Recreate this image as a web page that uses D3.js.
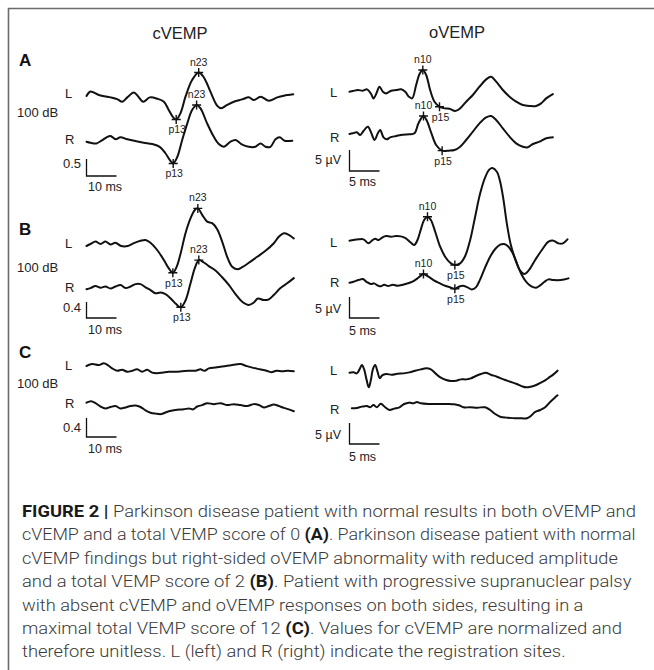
<!DOCTYPE html>
<html>
<head>
<meta charset="utf-8">
<script src="https://cdn.jsdelivr.net/npm/d3@7/dist/d3.min.js"></script>
<style>
  html, body { margin: 0; padding: 0; background: #fff; }
  svg { display: block; font-family: "Liberation Sans", Arial, sans-serif; }
</style>
</head>
<body>
<div id="chart"></div>
<script>
// traces: [time in ms from trace start, amplitude]
// cVEMP amplitudes are normalized (unitless), oVEMP amplitudes in µV
const cvempA_L = [[0,0],[1.33,0.13],[4.1,0.03],[8,-0.04],[10.4,-0.1],[11.9,-0.17],[13.6,-0.04],[15.8,0.1],[17.1,0],[18.9,-0.17],[21.1,-0.04],[23.6,-0.08],[25.8,-0.17],[27.4,-0.41],[28.9,-0.63],[29.9,-0.69],[31.3,-0.51],[33,-0.02],[35.2,0.47],[37.4,0.69],[39.1,0.55],[41.3,0.13],[43.6,-0.29],[44.9,-0.36],[46.9,-0.26],[49.1,-0.17],[51.9,-0.1],[54.1,-0.04],[55.8,-0.12],[58,-0.02],[60.8,-0.14],[63.6,-0.04],[65.8,0.01],[68.9,0.05]]
const cvempA_R = [[0,0],[1.3,-0.03],[3.3,-0.05],[5,0.03],[6.7,0.13],[8,0.17],[9.7,0.07],[11.3,0.13],[13.6,0.07],[16.3,0.02],[19.1,-0.03],[21.9,-0.07],[24.4,-0.15],[26.3,-0.34],[27.8,-0.54],[28.9,-0.64],[30.2,-0.46],[31.9,0.05],[33.6,0.54],[35.2,0.93],[36.7,1.08],[38,0.98],[40.2,0.54],[42.4,0.15],[44.1,-0.07],[45.8,-0.15],[48,0],[49.7,0.05],[51.6,-0.07],[54.1,-0.15],[56.3,-0.15],[58,-0.05],[59.7,-0.15],[61.3,-0.15],[63,0.07],[64.4,0.13],[66,0.03],[68.6,0.03]]
const ovempA_L = [[0,0],[0.56,0.16],[1.39,0.4],[2.22,0.24],[2.94,0.56],[3.61,-0.56],[4,-1.59],[4.44,-0.56],[5,1.19],[5.56,0],[6.11,-0.4],[6.94,0.24],[7.78,0.4],[8.61,0.56],[9.33,-0.08],[9.89,-1.19],[10.44,-1.59],[11.11,1.59],[11.67,4.21],[12.22,5.16],[12.78,3.97],[13.44,0.4],[14.17,-2.38],[15,-3.57],[15.83,-3.97],[16.67,-4.05],[17.61,-4.6],[18.44,-3.97],[19.44,-2.38],[20.56,-0.79],[21.67,1.19],[22.78,2.94],[23.61,3.57],[24.44,2.38],[25.56,0.4],[26.67,-1.19],[27.78,-2.38],[28.89,-3.17],[30,-3.41],[31.11,-3.41],[31.94,-2.78],[32.78,-1.59],[33.89,-0.56]]
const ovempA_R = [[0,0],[0.56,0.16],[1.22,0.4],[1.78,-0.24],[2.33,0.71],[3.06,1.75],[3.61,0.32],[4.17,-1.43],[4.72,0.16],[5.11,0.95],[5.67,-0.79],[6.22,-1.27],[6.78,-0.79],[7.78,-0.48],[8.89,-0.16],[10,-0.08],[10.83,0.16],[11.44,2.38],[11.94,3.73],[12.33,4.29],[12.89,3.17],[13.61,0.32],[14.44,-2.62],[15.44,-3.97],[16.56,-3.97],[17.5,-3.81],[18.44,-3.02],[19.44,-1.43],[20.56,0.56],[21.67,2.54],[22.78,3.97],[23.61,4.29],[24.44,3.33],[25.56,1.35],[26.67,-0.63],[27.78,-2.22],[28.89,-3.02],[29.72,-3.17],[30.56,-2.38],[31.67,-1.83],[32.78,-1.03],[33.89,-0.79]]

const cvempB_L = [[0,0],[1.33,0.05],[3,0.11],[4.67,0.05],[6.33,0.11],[8,0.04],[9.67,0.08],[11.56,0],[13.78,0],[15.78,0.07],[18,0.13],[19.67,0.15],[21.33,0.08],[23.56,-0.1],[25.78,-0.35],[27.44,-0.56],[28.78,-0.67],[30,-0.53],[31.33,-0.2],[33,0.32],[34.67,0.69],[36.11,0.9],[37.11,0.94],[38.56,0.78],[40.22,0.61],[41.89,0.57],[43.56,0.42],[45.22,0.11],[46.89,-0.27],[48.56,-0.52],[50.22,-0.58],[51.89,-0.53],[54.11,-0.42],[56.89,-0.27],[59.67,-0.12],[62.44,0.07],[64.11,0.23],[65.78,0.32],[67.44,0.28],[69.11,0.19]]
const cvempB_R = [[0,0],[1.33,0.03],[3,0.08],[4.67,0.04],[6.33,0.07],[8,0.02],[9.67,0.07],[11.33,0.11],[13,0.03],[14.67,0.07],[16.33,0.13],[18,0.13],[19.67,0.05],[21.33,-0.02],[23,-0.1],[24.67,-0.08],[26.33,-0.12],[28.22,-0.24],[29.89,-0.37],[31.44,-0.45],[33,-0.28],[34.67,0.15],[36.11,0.53],[37.44,0.73],[39.11,0.67],[40.78,0.58],[43,0.47],[45.22,0.3],[47.44,0.11],[49.67,-0.12],[51.89,-0.31],[54.11,-0.39],[55.78,-0.33],[57.11,-0.23],[59.11,-0.27],[60.78,-0.25],[62.44,-0.14],[64.67,0.03],[66.89,0.15],[69.11,0.28]]
const ovempB_L = [[0,0],[0.67,0.16],[1.5,0.32],[2.33,0.32],[3.17,-0.63],[3.72,0],[4.28,0.48],[4.83,0.16],[5.5,0.79],[6.06,1.11],[6.89,0.95],[7.78,1.11],[8.56,1.03],[9.33,0.63],[10.11,-0.32],[10.78,-1.03],[11.33,0.16],[11.89,2.7],[12.44,4.92],[13,5.71],[13.56,4.92],[14.28,2.14],[15.11,-1.43],[15.94,-3.81],[16.78,-5.24],[17.56,-5.79],[18.44,-5.4],[19.28,-3.65],[20.11,0.16],[20.94,5.71],[21.78,11.27],[22.61,15.08],[23.33,16.98],[23.83,17.3],[24.56,16.43],[25.11,14.05],[25.67,9.68],[26.22,4.13],[26.89,-1.03],[27.78,-5],[28.44,-7.14],[29.11,-7.94],[29.83,-7.14],[30.94,-4.6],[32.06,-2.22],[33.17,-0.24],[34,0],[34.83,-0.63],[35.56,-0.63],[36.33,0.32]]
const ovempB_R = [[0,0],[0.67,0.24],[1.5,0.63],[2.22,0.87],[2.89,0.16],[3.56,-0.32],[4.11,-0.16],[4.67,-0.63],[5.22,-0.87],[5.78,-0.48],[6.44,-0.79],[7.22,-0.48],[8,-0.71],[8.89,-0.48],[9.67,-0.16],[10.5,0.24],[11.33,1.03],[11.89,1.67],[12.33,2.06],[13.17,1.43],[14,0.63],[14.83,0],[15.67,-0.56],[16.61,-1.03],[17.56,-1.43],[18.22,-0.95],[18.89,-0.71],[19.67,-1.11],[20.39,-1.59],[21.06,-1.11],[21.78,0.79],[22.61,3.65],[23.44,6.19],[24.28,8.02],[25.11,9.05],[25.78,9.21],[26.5,8.57],[27.22,6.98],[28,4.21],[28.72,1.83],[29.56,0],[30.39,-0.95],[31.11,-1.19],[31.78,-0.63],[32.44,0.16],[33.17,0.79],[34,0.63],[35.22,0.63],[36.5,1.03]]

const cvempC_L = [[0,0],[1.89,0.04],[4.11,0.02],[5.78,0.06],[7.11,0.02],[8.56,-0.05],[10.22,-0.1],[11.89,-0.08],[13.56,-0.12],[15.22,-0.1],[16.89,-0.07],[18.56,-0.12],[20.22,-0.08],[21.89,-0.14],[23.56,-0.15],[25.22,-0.14],[27.44,-0.12],[29.67,-0.12],[31.89,-0.11],[34.11,-0.1],[36.33,-0.1],[38,-0.07],[39.33,-0.1],[40.78,-0.05],[43,-0.03],[45.22,-0.01],[47.44,0.01],[49.67,0.03],[51.33,0.04],[53.33,0],[55.56,-0.04],[57.78,-0.07],[60,-0.1],[61.56,-0.13],[63.33,-0.1],[65.22,-0.11],[67.11,-0.1],[69.11,-0.11]]
const cvempC_R = [[0,0],[1.56,0.03],[3,-0.01],[4.67,-0.08],[6.33,-0.12],[8,-0.09],[9.67,-0.07],[11.33,-0.12],[13,-0.1],[14.67,-0.07],[16.33,-0.06],[18,-0.09],[19.67,-0.16],[21.33,-0.21],[23,-0.23],[24.89,-0.24],[26.56,-0.2],[28.22,-0.17],[30.22,-0.15],[32.44,-0.14],[34.11,-0.12],[35.56,-0.14],[36.89,-0.08],[38.56,-0.05],[40.22,-0.01],[42.44,-0.03],[44.67,-0.01],[46.89,-0.05],[49.11,-0.03],[51.33,-0.05],[53.56,-0.07],[55.78,-0.03],[57.44,-0.05],[59.11,-0.1],[60.78,-0.07],[62.44,-0.04],[64.11,-0.07],[65.78,-0.11],[67.44,-0.14],[69.11,-0.18]]
const ovempC_L = [[0,0],[0.67,0.08],[1.22,-0.16],[1.67,0.79],[2.06,1.83],[2.44,0.79],[2.83,-1.59],[3.22,-3.49],[3.56,-1.75],[3.89,0.79],[4.28,1.83],[4.67,0.24],[5.06,-1.35],[5.44,-0.63],[6.11,-0.32],[7.06,-0.48],[8,-0.24],[9,-0.16],[10,0.08],[10.94,0.48],[11.89,0.79],[12.78,1.03],[13.56,0.79],[14.33,-0.16],[15.22,-1.19],[16.11,-1.75],[16.89,-1.98],[17.78,-1.9],[18.56,-1.59],[19.44,-1.59],[20.22,-1.35],[21.06,-0.79],[21.89,-0.32],[22.72,0],[23.56,-0.48],[24.56,-0.95],[25.67,-1.59],[26.78,-2.14],[27.89,-2.7],[28.78,-3.25],[29.44,-3.49],[30.22,-3.33],[31.11,-2.94],[31.89,-2.38],[32.67,-1.75],[33.44,-0.95],[34,-0.4],[34.67,0.48]]
const ovempC_R = [[0.39,0],[1.22,0.08],[2.06,0.4],[2.89,0.56],[3.44,0.24],[4,0.79],[4.56,0.24],[5.22,1.11],[5.94,0.24],[6.67,-0.4],[7.44,-0.08],[8.33,0.24],[9.11,1.03],[9.89,1.35],[10.67,1.19],[11.22,1.51],[11.89,1.19],[13.17,1.03],[14.83,1.03],[16.5,1.03],[17.44,0.95],[18.22,0.71],[19,0.24],[20.11,0.24],[21.33,0.16],[22.61,0.24],[23.44,-0.4],[24.28,-1.35],[25.22,-2.06],[26.22,-2.22],[27.61,-2.38],[28.72,-2.38],[29.56,-2.38],[30.22,-1.83],[30.94,-0.87],[31.78,-0.4],[32.61,0.24],[33.44,1.51],[34.28,2.62],[34.67,3.1]]

// labelled peaks: [trace time in ms, label]
const peaksCA_L = [[29.9, 'p13'], [37.4, 'n23']]
const peaksCA_R = [[28.9, 'p13'], [36.7, 'n23']]
const peaksOA_L = [[12.22, 'n10'], [15, 'p15']]
const peaksOA_R = [[12.33, 'n10'], [15.44, 'p15']]
const peaksCB_L = [[28.78, 'p13'], [37.11, 'n23']]
const peaksCB_R = [[31.44, 'p13'], [37.44, 'n23']]
const peaksOB_L = [[13, 'n10'], [17.56, 'p15']]
const peaksOB_R = [[12.33, 'n10'], [17.56, 'p15']]

const panelNames = ['A', 'B', 'C']
const cvempBarValues = [0.5, 0.4, 0.4]   // cVEMP amplitude scale bars (unitless)
const ovempBarValue = 5                  // µV
const cvempBarTime = 10                  // ms
const ovempBarTime = 5                   // ms

const captionLines = [
  [['FIGURE 2 | ', 1], ['Parkinson disease patient with normal results in both oVEMP and', 0]],
  [['cVEMP and a total VEMP score of 0 ', 0], ['(A)', 1], ['. Parkinson disease patient with normal', 0]],
  [['cVEMP findings but right-sided oVEMP abnormality with reduced amplitude', 0]],
  [['and a total VEMP score of 2 ', 0], ['(B)', 1], ['. Patient with progressive supranuclear palsy', 0]],
  [['with absent cVEMP and oVEMP responses on both sides, resulting in a', 0]],
  [['maximal total VEMP score of 12 ', 0], ['(C)', 1], ['. Values for cVEMP are normalized and', 0]],
  [['therefore unitless. L (left) and R (right) indicate the registration sites.', 0]]
]

// ---- layout ----
const W = 654, H = 670

// one x scale per column (ms -> px)
const xC = d3.scaleLinear().domain([0, 10]).range([86.5, 116.5])
const xO = d3.scaleLinear().domain([0, 5]).range([349.5, 379.5])

// vertical placement per panel row
const rows = [
  {letterY: 66,
   c: {L: cvempA_L, R: cvempA_R, pL: peaksCA_L, pR: peaksCA_R, baseL: 96, baseR: 141.7, ppu: 34, barBottom: 176, txtL: 98, txtR: 144, dbY: 117, barTxtY: 168, msY: 191},
   o: {L: ovempA_L, R: ovempA_R, pL: peaksOA_L, pR: peaksOA_R, baseL: 91.7, baseR: 134, ppu: 4.2, barBottom: 171, txtL: 97, txtR: 142, barTxtY: 164, msY: 186}},
  {letterY: 235,
   c: {L: cvempB_L, R: cvempB_R, pL: peaksCB_L, pR: peaksCB_R, baseL: 246, baseR: 289.3, ppu: 40, barBottom: 318, txtL: 248, txtR: 292, dbY: 272, barTxtY: 312, msY: 334},
   o: {L: ovempB_L, R: ovempB_R, pL: peaksOB_L, pR: peaksOB_R, baseL: 240.7, baseR: 282.7, ppu: 4.2, barBottom: 318, txtL: 247, txtR: 287, barTxtY: 313, msY: 335}},
  {letterY: 358,
   c: {L: cvempC_L, R: cvempC_R, pL: [], pR: [], baseL: 366, baseR: 402.7, ppu: 47.5, barBottom: 437, txtL: 370, txtR: 408, dbY: 388, barTxtY: 432, msY: 453},
   o: {L: ovempC_L, R: ovempC_R, pL: [], pR: [], baseL: 372.7, baseR: 408.3, ppu: 4.2, barBottom: 444, txtL: 375, txtR: 414, barTxtY: 439, msY: 461}}
]

const svg = d3.select('#chart').append('svg')
  .attr('width', W)
  .attr('height', H)

// frame lines top and left
svg.append('path')
  .attr('d', `M8.5,${H} V8.5 H${W}`)
  .attr('fill', 'none')
  .attr('stroke', '#6b6b6b')
  .attr('stroke-width', 1.6)

svg.append('text').attr('x', 180).attr('y', 39).attr('text-anchor', 'middle')
  .attr('font-size', 16.5).attr('fill', '#222').text('cVEMP')
svg.append('text').attr('x', 457).attr('y', 38).attr('text-anchor', 'middle')
  .attr('font-size', 16.5).attr('fill', '#222').text('oVEMP')

const line = d3.line().curve(d3.curveCatmullRom.alpha(0.5))

function drawTrace(g, data, peaks, x, base, ppu) {
  const y = d3.scaleLinear().domain([0, 1]).range([base, base - ppu])
  g.append('path')
    .attr('d', line(data.map(d => [x(d[0]), y(d[1])])))
    .attr('fill', 'none')
    .attr('stroke', '#111')
    .attr('stroke-width', 2)
    .attr('stroke-linejoin', 'round')
    .attr('stroke-linecap', 'round')

  peaks.forEach(([t, name]) => {
    const pt = data.find(d => Math.abs(d[0] - t) < 0.01)
    const px = x(pt[0]), py = y(pt[1])
    g.append('path')
      .attr('d', `M${px - 4.5},${py}H${px + 4.5}M${px},${py - 4.5}V${py + 4.5}`)
      .attr('stroke', '#111').attr('stroke-width', 1.4)
    const below = name[0] === 'p'
    g.append('text')
      .attr('x', px + (below ? 1 : 0))
      .attr('y', below ? py + 14 : py - 7)
      .attr('text-anchor', 'middle')
      .attr('font-size', 10.5)
      .attr('fill', '#222')
      .text(name)
  })
}

function scaleBar(g, x, tMs, bottom, ppu, value) {
  const y = d3.scaleLinear().domain([0, 1]).range([bottom, bottom - ppu])
  g.append('path')
    .attr('d', `M${x(0)},${y(value)}V${y(0)}H${x(tMs)}`)
    .attr('fill', 'none')
    .attr('stroke', '#111')
    .attr('stroke-width', 1.3)
}

rows.forEach((r, i) => {
  const g = svg.append('g')
  g.append('text').attr('x', 19).attr('y', r.letterY)
    .attr('font-size', 17).attr('font-weight', 'bold').attr('fill', '#111')
    .text(panelNames[i])

  // cVEMP column
  const c = r.c
  drawTrace(g, c.L, c.pL, xC, c.baseL, c.ppu)
  drawTrace(g, c.R, c.pR, xC, c.baseR, c.ppu)
  const txt = (x, y, s, anchor) => g.append('text').attr('x', x).attr('y', y)
    .attr('font-size', 13).attr('fill', '#222').attr('text-anchor', anchor || 'start').text(s)
  txt(65, c.txtL, 'L')
  txt(65, c.txtR, 'R')
  txt(17, c.dbY, '100 dB')
  txt(81, c.barTxtY, String(cvempBarValues[i]), 'end')
  txt(88, c.msY, cvempBarTime + ' ms').attr('font-size', 12.5)
  scaleBar(g, xC, cvempBarTime, c.barBottom, c.ppu, cvempBarValues[i])

  // oVEMP column
  const o = r.o
  drawTrace(g, o.L, o.pL, xO, o.baseL, o.ppu)
  drawTrace(g, o.R, o.pR, xO, o.baseR, o.ppu)
  txt(330, o.txtL, 'L')
  txt(330, o.txtR, 'R')
  txt(341, o.barTxtY, ovempBarValue + ' µV', 'end').attr('font-size', 12.5)
  txt(349, o.msY, ovempBarTime + ' ms').attr('font-size', 12.5)
  scaleBar(g, xO, ovempBarTime, o.barBottom, o.ppu, ovempBarValue)
})

// caption: each line squeezed horizontally to the width it takes in the figure
const capX = 22, capY0 = 517, capDy = 23.4
const capWidths = [614, 614, 596, 610, 562, 600, 544]
captionLines.forEach((segs, i) => {
  const t = svg.append('text')
    .attr('font-family', 'Roboto, "Liberation Sans", sans-serif')
    .attr('font-size', 16)
  segs.forEach(([s, bold]) => {
    t.append('tspan')
      .attr('font-weight', bold ? 700 : 300)
      .attr('fill', bold ? '#1a1a1a' : '#3a3a3a')
      .text(s)
  })
  const sx = capWidths[i] / t.node().getComputedTextLength()
  t.attr('transform', `translate(${capX},${capY0 + i * capDy}) scale(${sx},1)`)
})
</script>
</body>
</html>
